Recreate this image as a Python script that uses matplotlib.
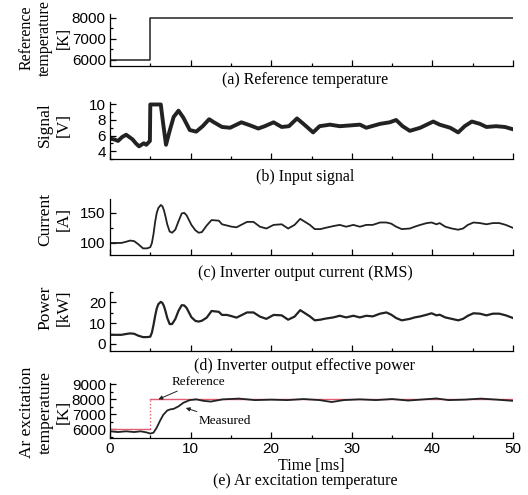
import matplotlib
matplotlib.use("Agg")
import matplotlib.pyplot as plt
from matplotlib.ticker import MultipleLocator

# (a) reference temperature step
ref_t = [0, 5, 5, 50]
ref_temp = [6000, 6000, 8000, 8000]

# (b) input signal [V]
sig_t = [0, 0.5, 1.0, 1.5, 2.0, 2.8, 3.2, 3.6, 4.2, 4.5, 4.95, 5.0, 6.3, 6.6, 6.95, 7.4,
         7.9, 8.5, 9.1, 9.9, 10.7, 11.5, 12.3, 12.9, 13.9, 14.9, 16.3, 17.4, 18.4, 19.2,
         20.3, 21.3, 22.2, 23.2, 24.0, 25.2, 26.0, 27.3, 28.5, 29.8, 31.0, 31.8, 33.5,
         34.7, 35.5, 36.3, 37.2, 38.5, 39.3, 40.1, 40.9, 42.2, 43.2, 44.0, 44.9, 45.9,
         46.7, 47.9, 49.0, 50.0]
sig_v = [5.6, 5.5, 5.3, 5.8, 6.1, 5.5, 5.0, 4.6, 5.0, 4.8, 5.3, 10.0, 10.0, 7.5, 4.8, 6.6,
         8.4, 9.2, 8.3, 6.7, 6.5, 7.2, 8.1, 7.7, 7.1, 7.0, 7.7, 7.3, 6.9, 7.2,
         7.7, 7.1, 7.2, 8.2, 7.5, 6.4, 7.2, 7.4, 7.2, 7.3, 7.4, 7.0, 7.5,
         7.7, 8.0, 7.2, 6.6, 7.0, 7.4, 7.8, 7.4, 7.0, 6.4, 7.2, 7.8, 7.5,
         7.1, 7.2, 7.1, 6.8]

# (c) inverter output current [A] and (d) effective power [kW]
cur_t = [0, 1.4, 2.0, 2.5, 3.0, 3.5, 4.1, 4.6, 5.0, 5.2, 5.4, 5.6, 5.8, 6.0, 6.3, 6.5,
         6.7, 6.9, 7.1, 7.4, 7.7, 8.1, 8.5, 8.9, 9.2, 9.5, 10.1, 10.6, 11.0, 11.4, 12.0,
         12.6, 13.5, 13.9, 14.5, 15.1, 15.7, 17.0, 17.8, 18.6,
         19.4, 20.3, 21.3, 22.1, 22.9, 23.6, 24.2, 24.8, 25.4, 26.1, 26.7, 27.7, 28.5,
         29.3, 30.2, 31.0, 31.8, 32.6, 33.5, 34.3, 34.9, 35.5, 36.2, 37.2, 37.8, 38.5,
         39.3, 39.9, 40.5, 40.9, 41.6, 42.4, 43.2, 43.8, 44.4, 45.1, 45.9, 46.7, 47.5,
         48.3, 49.1, 50.0]
cur_a = [100, 100, 102, 104, 103, 98, 91, 91, 93, 100, 115, 135, 150, 158, 163, 161,
         154, 143, 131, 119, 117, 122, 136, 149, 150, 146, 130, 121, 117, 118, 129,
         138, 137, 131, 129, 127, 126, 135, 135, 127,
         124, 130, 131, 124, 130, 140, 135, 130, 123, 123, 125, 128, 130,
         127, 130, 127, 130, 130, 134, 134, 132, 127, 123, 124, 127, 130,
         133, 134, 131, 133, 127, 124, 122, 124, 130, 134, 133, 131, 133,
         133, 130, 125]
pow_kw = [4.4, 4.4, 4.8, 5.1, 4.9, 4.0, 3.3, 3.3, 3.5, 5.5, 9.2, 13.5, 17.1, 19.2, 20.3, 19.8,
          18.2, 15.6, 12.6, 9.6, 9.6, 12.0, 16.0, 18.7, 18.6, 17.4, 12.9, 11.1, 10.8, 11.2, 12.7,
          15.9, 15.5, 14.0, 14.0, 13.4, 12.7, 15.2, 15.2, 13.2,
          12.1, 14.0, 13.8, 11.7, 13.2, 16.3, 14.8, 13.3, 11.4, 11.7, 12.2, 12.8, 13.6,
          12.8, 13.6, 12.8, 13.6, 13.3, 14.6, 15.2, 14.1, 12.5, 11.4, 12.1, 12.8, 13.3,
          14.1, 14.8, 13.8, 14.1, 12.8, 12.1, 11.4, 12.1, 13.6, 14.8, 14.6, 13.8, 14.6,
          14.6, 13.8, 12.5]

# (e) Ar excitation temperature [K]
meas_t = [0, 1.0, 2.0, 3.0, 3.8, 4.5, 5.0, 5.4, 5.8, 6.2, 6.6, 7.1, 7.5, 7.9, 8.5, 9.1,
          9.9, 10.7, 11.6, 12.5, 14.0, 16.0, 18.0, 20.0, 22.0, 24.0, 26.0, 27.5, 29.0,
          31.0, 33.0, 35.0, 37.0, 39.0, 40.5, 42.0, 44.0, 46.0, 48.0, 50.0]
meas_temp = [5850, 5800, 5850, 5800, 5850, 5780, 5700, 5760, 6100, 6550, 6950, 7250, 7330,
             7360, 7530, 7770, 7950, 8000, 7900, 7850, 8000, 8050, 7950, 7980, 7950, 8020,
             7950, 7820, 7950, 8000, 7950, 8020, 7920, 8000, 8060, 7950, 7980, 8050, 7980,
             7900]

W, H = 528, 495
LINE = "#222222"
RED = "#e35d72"
SERIF = ["Liberation Serif", "DejaVu Serif"]
SANS = ["Liberation Sans", "DejaVu Sans"]

plt.rcParams["font.family"] = SANS
plt.rcParams["font.size"] = 11


def make_axes(fig, top, bottom):
    ax = fig.add_axes([110 / W, 1 - bottom / H, 403 / W, (bottom - top) / H])
    ax.set_xlim(0, 50)
    ax.xaxis.set_major_locator(MultipleLocator(10))
    ax.xaxis.set_minor_locator(MultipleLocator(5))
    ax.tick_params(which="both", direction="in", top=False, right=False, width=0.9, pad=3)
    ax.tick_params(which="major", length=4.5)
    ax.tick_params(which="minor", length=2.5)
    for spine in ("top", "right"):
        ax.spines[spine].set_visible(False)
    for spine in ("left", "bottom"):
        ax.spines[spine].set_linewidth(0.9)
    return ax


def label_panel(fig, ax, ylabel, label_y, title, title_y, size=12.5):
    ax.set_ylabel(ylabel, family=SERIF, fontsize=size, linespacing=1.2)
    ax.yaxis.set_label_coords(-0.095, label_y)
    fig.text(305 / W, 1 - title_y / H, title, family=SERIF, fontsize=11.5,
             ha="center", va="center")


fig = plt.figure(figsize=(W / 100, H / 100), dpi=100)
fig.patch.set_facecolor("white")

# (a)
ax = make_axes(fig, 14, 66)
ax.plot(ref_t, ref_temp, color=LINE, lw=1.1)
ax.set_ylim(5714, 8190)
ax.yaxis.set_major_locator(MultipleLocator(1000))
ax.yaxis.set_minor_locator(MultipleLocator(500))
ax.set_xticklabels([])
label_panel(fig, ax, "Reference\ntemperature\n[K]", 0.54, "(a) Reference temperature", 80,
            size=11.5)

# (b)
ax = make_axes(fig, 102, 159)
ax.plot(sig_t, sig_v, color=LINE, lw=2.8, solid_joinstyle="round")
ax.set_ylim(2.97, 10.32)
ax.yaxis.set_major_locator(MultipleLocator(2))
ax.yaxis.set_minor_locator(MultipleLocator(1))
ax.set_xticklabels([])
label_panel(fig, ax, "Signal\n[V]", 0.6, "(b) Input signal", 177)

# (c)
ax = make_axes(fig, 199, 255)
ax.plot(cur_t, cur_a, color=LINE, lw=1.3)
ax.set_ylim(80, 173)
ax.yaxis.set_major_locator(MultipleLocator(50))
ax.yaxis.set_minor_locator(MultipleLocator(25))
ax.set_xticklabels([])
label_panel(fig, ax, "Current\n[A]", 0.64, "(c) Inverter output current (RMS)", 273)

# (d)
ax = make_axes(fig, 291.5, 351)
ax.plot(cur_t, pow_kw, color=LINE, lw=1.6)
ax.set_ylim(-3.4, 25.3)
ax.yaxis.set_major_locator(MultipleLocator(10))
ax.yaxis.set_minor_locator(MultipleLocator(5))
ax.set_xticklabels([])
label_panel(fig, ax, "Power\n[kW]", 0.72, "(d) Inverter output effective power", 366)

# (e)
ax = make_axes(fig, 383, 438)
ax.plot(ref_t[:2], ref_temp[:2], color=RED, lw=1.0)
ax.plot(ref_t[1:3], ref_temp[1:3], color=RED, lw=1.0, ls=(0, (1, 1.5)))
ax.plot(ref_t[2:], ref_temp[2:], color=RED, lw=1.0)
ax.plot(meas_t, meas_temp, color=LINE, lw=1.3)
ax.set_ylim(5400, 9100)
ax.yaxis.set_major_locator(MultipleLocator(1000))
ax.yaxis.set_minor_locator(MultipleLocator(500))
ax.set_xlabel("Time [ms]", family=SERIF, fontsize=11.5, labelpad=1)
label_panel(fig, ax, "Ar excitation\ntemperature\n[K]", 0.47, "(e) Ar excitation temperature", 481)

arrow = dict(arrowstyle="-|>", color=LINE, lw=0.7, mutation_scale=6, shrinkA=1, shrinkB=0)
ax.annotate("Reference", xy=(6.0, ref_temp[-1]), xytext=(11.0, 9180), family=SERIF,
            fontsize=9.5, ha="center", va="center", arrowprops=arrow, annotation_clip=False)
ax.annotate("Measured", xy=(9.4, 7420), xytext=(14.3, 6560), family=SERIF,
            fontsize=9.5, ha="center", va="center", arrowprops=arrow)

fig.savefig("out.png", dpi=100, facecolor="white")
